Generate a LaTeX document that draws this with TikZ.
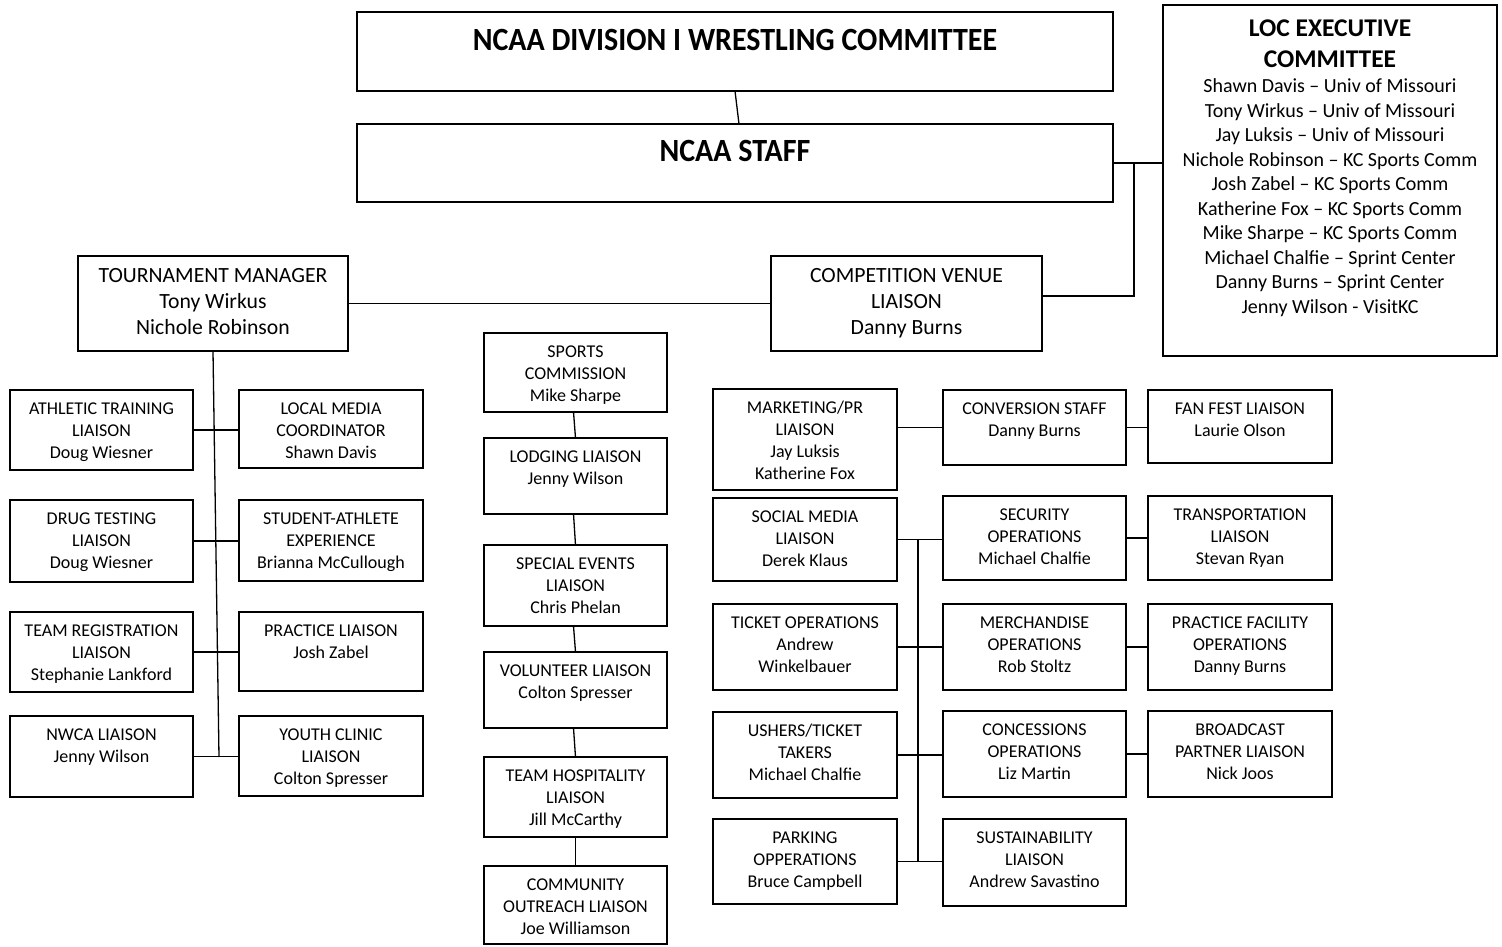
\documentclass[tikz,border=0pt]{standalone}
\usepackage{fontspec}
\setmainfont{Carlito}
\usetikzlibrary{calc}
\tikzset{
  obx/.style={draw=black, line width=1.3pt, inner sep=0pt, outer sep=0pt},
  sm/.style={font=\fontsize{18}{22}\selectfont, align=center, inner sep=0pt, anchor=north, yshift=-8.4pt},
  md/.style={font=\fontsize{21.7}{26}\selectfont, align=center, inner sep=0pt, anchor=north, yshift=-8.3pt},
  ttl/.style={font=\bfseries\fontsize{30}{36}\selectfont, inner sep=0pt, anchor=base},
  ln/.style={line width=1.3pt, draw=black},
}
\newcommand\obox[7]{%
  \node[obx, anchor=north west, minimum width={#4-#2}, minimum height={#5-#3}] (#1) at (#2,#3) {};
  \node[#6] (#1-t) at (#1.north) {\strut #7};
}
\begin{document}
\begin{tikzpicture}[x=1pt,y=-1pt]
\fill[white] (0,0) rectangle (1502,947);
\useasboundingbox (0,0) rectangle (1502,947);

% top
\node[obx, anchor=north west, minimum width=756, minimum height=79] (div) at (357,12) {};
\node[ttl, yshift=-38.5pt] (div-t) at (div.north) {\scalebox{1}[1.08]{NCAA DIVISION I WRESTLING COMMITTEE}};
\node[obx, anchor=north west, minimum width=756, minimum height=78] (staff) at (357,124) {};
\node[ttl, yshift=-37.5pt] (staff-t) at (staff.north) {\scalebox{1}[1.08]{NCAA STAFF}};

% LOC
\node[obx, anchor=north west, minimum width=334, minimum height=351] (loc) at (1163,5) {};
\node[font=\bfseries\fontsize{25.5}{31}\selectfont, align=center, inner sep=0pt, anchor=north, yshift=-9.5pt] (loc-h) at (loc.north) {\strut LOC EXECUTIVE\\COMMITTEE};
\node[font=\fontsize{20}{24.5}\selectfont, align=center, inner sep=0pt, anchor=north, yshift=-70.3pt] (loc-b) at (loc.north) {\strut Shawn Davis – Univ of Missouri\\Tony Wirkus – Univ of Missouri\\Jay Luksis – Univ of Missouri\\Nichole Robinson – KC Sports Comm\\Josh Zabel – KC Sports Comm\\Katherine Fox – KC Sports Comm\\Mike Sharpe – KC Sports Comm\\Michael Chalfie – Sprint Center\\Danny Burns – Sprint Center\\Jenny Wilson - VisitKC};

% managers
\obox{tm}{78}{256}{348}{351}{md}{TOURNAMENT MANAGER\\Tony Wirkus\\Nichole Robinson}
\obox{cv}{771}{256}{1042}{351}{md}{COMPETITION VENUE\\LIAISON\\Danny Burns}

% left block
\obox{ath}{10}{390}{193}{470}{sm}{ATHLETIC TRAINING\\LIAISON\\Doug Wiesner}
\obox{lmc}{239}{390}{423}{468}{sm}{LOCAL MEDIA\\COORDINATOR\\Shawn Davis}
\obox{drg}{10}{500}{193}{582}{sm}{DRUG TESTING\\LIAISON\\Doug Wiesner}
\obox{sae}{239}{500}{423}{581}{sm}{STUDENT-ATHLETE\\EXPERIENCE\\Brianna McCullough}
\obox{trg}{10}{612}{193}{692}{sm}{TEAM REGISTRATION\\LIAISON\\Stephanie Lankford}
\obox{prl}{239}{612}{423}{691}{sm}{PRACTICE LIAISON\\Josh Zabel}
\obox{nwc}{10}{716}{193}{797}{sm}{NWCA LIAISON\\Jenny Wilson}
\obox{yth}{239}{716}{423}{796}{sm}{YOUTH CLINIC\\LIAISON\\Colton Spresser}

% middle column
\obox{spc}{484}{333}{667}{412}{sm}{SPORTS\\COMMISSION\\Mike Sharpe}
\obox{lod}{484}{438}{667}{514}{sm}{LODGING LIAISON\\Jenny Wilson}
\obox{spe}{484}{545}{667}{626}{sm}{SPECIAL EVENTS\\LIAISON\\Chris Phelan}
\obox{vol}{484}{652}{667}{728}{sm}{VOLUNTEER LIAISON\\Colton Spresser}
\obox{hos}{484}{757}{667}{837}{sm}{TEAM HOSPITALITY\\LIAISON\\Jill McCarthy}
\obox{com}{484}{866}{667}{944}{sm}{COMMUNITY\\OUTREACH LIAISON\\Joe Williamson}

% right block
\obox{mkt}{713}{389}{897}{490}{sm}{MARKETING/PR\\LIAISON\\Jay Luksis\\Katherine Fox}
\obox{soc}{713}{498}{897}{581}{sm}{SOCIAL MEDIA\\LIAISON\\Derek Klaus}
\obox{tkt}{713}{604}{897}{690}{sm}{TICKET OPERATIONS\\Andrew\\Winkelbauer}
\obox{ush}{713}{712}{897}{798}{sm}{USHERS/TICKET\\TAKERS\\Michael Chalfie}
\obox{prk}{713}{819}{897}{904}{sm}{PARKING\\OPPERATIONS\\Bruce Campbell}
\obox{cnv}{943}{390}{1126}{465}{sm}{CONVERSION STAFF\\Danny Burns}
\obox{sec}{943}{496}{1126}{580}{sm}{SECURITY\\OPERATIONS\\Michael Chalfie}
\obox{mer}{943}{604}{1126}{690}{sm}{MERCHANDISE\\OPERATIONS\\Rob Stoltz}
\obox{cns}{943}{711}{1126}{797}{sm}{CONCESSIONS\\OPERATIONS\\Liz Martin}
\obox{sus}{943}{819}{1126}{906}{sm}{SUSTAINABILITY\\LIAISON\\Andrew Savastino}
\obox{fan}{1148}{390}{1332}{463}{sm}{FAN FEST LIAISON\\Laurie Olson}
\obox{trn}{1148}{496}{1332}{580}{sm}{TRANSPORTATION\\LIAISON\\Stevan Ryan}
\obox{pfo}{1148}{604}{1332}{690}{sm}{PRACTICE FACILITY\\OPERATIONS\\Danny Burns}
\obox{brd}{1148}{711}{1332}{797}{sm}{BROADCAST\\PARTNER LIAISON\\Nick Joos}

% connectors: top
\draw[ln] (div.south) -- ($(staff.north)+(4,0)$);
\draw[ln] (staff.east) -- (staff.east -| loc.west);
\coordinate (j1) at (1134,163);
\coordinate (j2) at (1134,296);
\draw[ln] (j1) -- (j2) -- (j2 -| cv.east);
\draw[ln] (tm.east) -- (cv.west);

% left block
\coordinate (tmb) at (219,757);
\draw[ln] (tm.south) -- (tmb);
\draw[ln] (ath.east) -- (ath.east -| lmc.west);
\draw[ln] (drg.east) -- (drg.east -| sae.west);
\draw[ln] (trg.east) -- (trg.east -| prl.west);
\draw[ln] (nwc.east) -- (nwc.east -| yth.west);

% middle column
\draw[ln] ($(spc.south)+(-2,0)$) -- (lod.north);
\draw[ln] ($(lod.south)+(-2,0)$) -- (spe.north);
\draw[ln] ($(spe.south)+(-2,0)$) -- (vol.north);
\draw[ln] ($(vol.south)+(-2,0)$) -- (hos.north);
\draw[ln] (hos.south) -- (com.north);

% right block
\draw[ln] (cnv.west -| mkt.east) -- (cnv.west);
\draw[ln] (cnv.east) -- (cnv.east -| fan.west);
\coordinate (bt) at ($(soc.east)+(21,0)$);
\coordinate (bb) at ($(prk.east)+(21,0)$);
\draw[ln] (bt) -- (bb);
\draw[ln] (soc.east) -- (soc.east -| sec.west);
\draw[ln] (tkt.east) -- (tkt.east -| mer.west);
\draw[ln] (ush.east) -- (ush.east -| cns.west);
\draw[ln] (prk.east) -- (prk.east -| sus.west);
\draw[ln] (sec.east) -- (sec.east -| trn.west);
\draw[ln] (mer.east) -- (mer.east -| pfo.west);
\draw[ln] (cns.east) -- (cns.east -| brd.west);
\end{tikzpicture}
\end{document}
